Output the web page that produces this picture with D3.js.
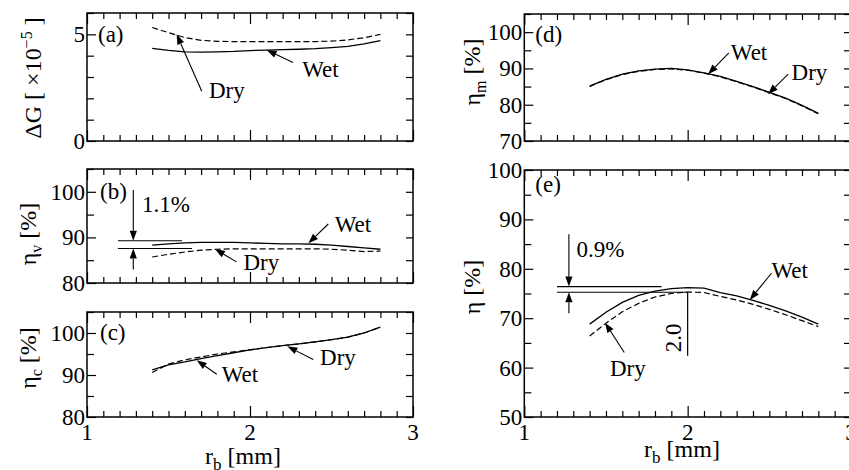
<!DOCTYPE html>
<html>
<head>
<meta charset="utf-8">
<script src="https://cdn.jsdelivr.net/npm/d3@7"></script>
<style>
  body { margin: 0; background: #fff; }
</style>
</head>
<body>
<svg id="chart" width="849" height="470"></svg>
<script>
// bubble radius r_b [mm]
var rb = [1.4, 1.5, 1.6, 1.7, 1.8, 1.9, 2.0, 2.1, 2.2, 2.3, 2.4, 2.5, 2.6, 2.7, 2.8];

// (a) delta G [x10^-5]
var dGWet = [4.34, 4.25, 4.18, 4.17, 4.18, 4.20, 4.24, 4.26, 4.28, 4.30, 4.33, 4.38, 4.44, 4.55, 4.70];
var dGDry = [5.32, 5.08, 4.85, 4.72, 4.67, 4.66, 4.66, 4.66, 4.66, 4.66, 4.66, 4.68, 4.74, 4.84, 5.00];

// (b) eta_v [%]
var etaVWet = [88.3, 88.6, 88.8, 88.9, 88.9, 88.9, 88.8, 88.7, 88.6, 88.6, 88.5, 88.3, 88.0, 87.7, 87.4];
var etaVDry = [85.7, 86.3, 86.8, 87.2, 87.4, 87.5, 87.5, 87.5, 87.5, 87.5, 87.5, 87.4, 87.2, 86.9, 87.0];

// (c) eta_c [%]
var etaCWet = [91.2, 92.4, 93.1, 93.9, 94.6, 95.3, 96.0, 96.5, 97.0, 97.4, 97.9, 98.4, 99.0, 100.0, 101.4];
var etaCDry = [90.6, 92.6, 93.6, 94.3, 95.0, 95.5, 96.0, 96.5, 97.0, 97.4, 97.9, 98.4, 99.0, 100.0, 101.4];

// (d) eta_m [%]
var etaMWet = [85.1, 87.0, 88.4, 89.3, 89.8, 90.0, 89.6, 88.8, 87.8, 86.4, 85.0, 83.4, 81.8, 79.8, 77.6];
var etaMDry = [85.0, 86.9, 88.3, 89.2, 89.7, 89.9, 89.5, 88.7, 87.7, 86.3, 84.9, 83.3, 81.7, 79.7, 77.5];

// (e) eta [%]
var etaWet = [68.8, 71.2, 73.2, 74.6, 75.5, 76.0, 76.2, 76.1, 75.2, 74.5, 73.6, 72.6, 71.5, 70.2, 68.8];
var etaDry = [66.4, 69.0, 71.3, 73.0, 74.3, 75.0, 75.3, 75.2, 74.4, 73.7, 72.8, 71.8, 70.7, 69.5, 68.3];

var xTickLabels = [1, 2, 3];

var panels = [
  { name: "(a)", x0: 87, x1: 413, y0: 13, y1: 141, yDomain: [0, 6], yStep: 1, yLabels: [0, 5],
    wet: dGWet, dry: dGDry, lab: [11, 29],
    title: { x: 41, y: 78, parts: [["ΔG [ ×10", 0], ["−5", -9, 16], [" ]", 9]] },
    notes: [
      { text: "Dry", at: [1.748, 2.03], from: [1.704, 2.33], to: [1.55, 5.0] },
      { text: "Wet", at: [2.32, 3.02], from: [2.264, 3.68], to: [2.102, 4.26] }
    ] },
  { name: "(b)", x0: 87, x1: 413, y0: 169, y1: 283, yDomain: [80, 105], yStep: 5, yLabels: [80, 90, 100],
    wet: etaVWet, dry: etaVDry, lab: [13, 30],
    title: { x: 36, y: 234, parts: [["η", 0], ["v", 6, 16], [" [%]", -6]] },
    notes: [
      { text: "Wet", at: [2.52, 91.24], from: [2.48, 92.94], to: [2.358, 88.69] },
      { text: "Dry", at: [1.96, 82.8], from: [1.918, 84.63], to: [1.785, 87.43] },
      { text: "1.1%", at: [1.337, 95.65] }
    ],
    gap: { x: 1.284, hi: 89.26, lo: 87.58, from: 1.19, hiTo: 1.583, loTo: 1.644, top: 100.4, bottom: 82.95 } },
  { name: "(c)", x0: 87, x1: 413, y0: 312, y1: 417, yDomain: [80, 105], yStep: 5, yLabels: [80, 90, 100],
    wet: etaCWet, dry: etaCDry, lab: [13, 28],
    title: { x: 36, y: 358, parts: [["η", 0], ["c", 6, 16], [" [%]", -6]] },
    notes: [
      { text: "Dry", at: [2.43, 92.3], from: [2.388, 93.67], to: [2.229, 96.83] },
      { text: "Wet", at: [1.826, 88.33], from: [1.796, 90.17], to: [1.673, 93.5] }
    ],
    xAxis: { labelDy: 23, titleX: 243, titleY: 464 } },
  { name: "(d)", x0: 524.3, x1: 851, y0: 14, y1: 141, yDomain: [70, 105], yStep: 5, yLabels: [70, 80, 90, 100],
    wet: etaMWet, dry: etaMDry, lab: [11, 28],
    title: { x: 480, y: 72, parts: [["η", 0], ["m", 6, 16], [" [%]", -6]] },
    notes: [
      { text: "Wet", at: [2.264, 92.3], from: [2.252, 94.3], to: [2.125, 88.4] },
      { text: "Dry", at: [2.636, 86.8], from: [2.615, 88.4], to: [2.492, 82.9] }
    ] },
  { name: "(e)", x0: 524.3, x1: 851, y0: 170, y1: 417, yDomain: [50, 100], yStep: 5, yLabels: [50, 60, 70, 80, 90, 100],
    wet: etaWet, dry: etaDry, lab: [11, 22],
    title: { x: 480, y: 287, parts: [["η [%]", 0]] },
    notes: [
      { text: "Wet", at: [2.513, 78.1], from: [2.513, 79.1], to: [2.38, 73.7] },
      { text: "Dry", at: [1.524, 58.2], from: [1.612, 63.05], to: [1.494, 69.1] },
      { text: "0.9%", at: [1.32, 82.4] }
    ],
    gap: { x: 1.273, hi: 76.4, lo: 75.25, from: 1.2, hiTo: 1.84, loTo: 2.0, top: 87.0, bottom: 71.0 },
    peak: { x: 2.0, top: 75.25, bottom: 62.4, text: "2.0", tx: 1.962, ty: 66.0 },
    xAxis: { labelDy: 23, titleX: 682, titleY: 457 } }
];

var FONT = "'Liberation Serif'";
var FS = 23;
var svg = d3.select("#chart");

panels.forEach(drawPanel);

function txt(g, size) {
  return g.append("text").style("font-family", FONT).attr("font-size", size || FS);
}

function drawPanel(p) {
  var x = d3.scaleLinear().domain([1, 3]).range([p.x0, p.x1]);
  var y = d3.scaleLinear().domain(p.yDomain).range([p.y1, p.y0]);
  var g = svg.append("g");

  // ticks, all pointing inwards
  var xMinor = d3.range(10, 31).filter(function (d) { return d % 10 !== 0; }).map(function (d) { return d / 10; });
  var yAll = d3.range(p.yDomain[0], p.yDomain[1] + 0.001, p.yStep);
  var yMinor = yAll.filter(function (d) { return p.yLabels.indexOf(d) < 0; });

  addTicks(g, d3.axisBottom(x), xMinor, 6, "translate(0," + p.y1 + ")");
  addTicks(g, d3.axisBottom(x), xTickLabels, 11, "translate(0," + p.y1 + ")");
  addTicks(g, d3.axisTop(x), xMinor, 6, "translate(0," + p.y0 + ")");
  addTicks(g, d3.axisTop(x), xTickLabels, 11, "translate(0," + p.y0 + ")");
  addTicks(g, d3.axisLeft(y), yMinor, 7, "translate(" + p.x0 + ",0)");
  addTicks(g, d3.axisLeft(y), p.yLabels, 9, "translate(" + p.x0 + ",0)");
  addTicks(g, d3.axisRight(y), yAll, 7, "translate(" + p.x1 + ",0)");

  g.append("rect")
    .attr("x", p.x0).attr("y", p.y0)
    .attr("width", p.x1 - p.x0).attr("height", p.y1 - p.y0)
    .attr("fill", "none").attr("stroke", "#000").attr("stroke-width", 1.5);

  p.yLabels.forEach(function (d) {
    txt(g).attr("x", p.x0 - 2).attr("y", y(d)).attr("dy", "0.35em")
      .attr("text-anchor", "end").text(d);
  });

  // y title, rotated
  var t = txt(g, 24)
    .attr("transform", "translate(" + p.title.x + "," + p.title.y + ") rotate(-90)")
    .attr("text-anchor", "middle");
  p.title.parts.forEach(function (part) {
    t.append("tspan").attr("dy", part[1]).attr("font-size", part[2] || 24).text(part[0]);
  });

  txt(g).attr("x", p.x0 + p.lab[0]).attr("y", p.y0 + p.lab[1]).text(p.name);

  if (p.xAxis) {
    xTickLabels.forEach(function (d) {
      txt(g).attr("x", x(d)).attr("y", p.y1 + p.xAxis.labelDy)
        .attr("text-anchor", "middle").text(d);
    });
    var xt = txt(g, 24)
      .attr("x", p.xAxis.titleX).attr("y", p.xAxis.titleY)
      .attr("text-anchor", "middle");
    xt.append("tspan").text("r");
    xt.append("tspan").attr("dy", 6).attr("font-size", 17).text("b");
    xt.append("tspan").attr("dy", -6).text(" [mm]");
  }

  var line = d3.line()
    .x(function (d) { return x(d[0]); })
    .y(function (d) { return y(d[1]); });

  g.append("path")
    .datum(d3.zip(rb, p.dry))
    .attr("d", line)
    .attr("fill", "none").attr("stroke", "#000")
    .attr("stroke-width", 1.2).attr("stroke-dasharray", "6,3");

  g.append("path")
    .datum(d3.zip(rb, p.wet))
    .attr("d", line)
    .attr("fill", "none").attr("stroke", "#000")
    .attr("stroke-width", 1.3);

  p.notes.forEach(function (n) {
    txt(g).attr("x", x(n.at[0])).attr("y", y(n.at[1])).text(n.text);
    if (n.from) arrow(g, x(n.from[0]), y(n.from[1]), x(n.to[0]), y(n.to[1]));
  });

  if (p.gap) {
    var q = p.gap;
    hline(g, x(q.from), x(q.hiTo), y(q.hi));
    hline(g, x(q.from), x(q.loTo), y(q.lo));
    arrow(g, x(q.x), y(q.top), x(q.x), y(q.hi));
    arrow(g, x(q.x), y(q.bottom), x(q.x), y(q.lo));
  }

  if (p.peak) {
    g.append("line")
      .attr("x1", x(p.peak.x)).attr("x2", x(p.peak.x))
      .attr("y1", y(p.peak.top)).attr("y2", y(p.peak.bottom))
      .attr("stroke", "#000").attr("stroke-width", 1.2);
    txt(g)
      .attr("transform", "translate(" + x(p.peak.tx) + "," + y(p.peak.ty) + ") rotate(-90)")
      .attr("text-anchor", "middle")
      .text(p.peak.text);
  }
}

function addTicks(g, axis, values, size, transform) {
  var a = g.append("g")
    .attr("transform", transform)
    .call(axis.tickValues(values).tickSize(-size).tickFormat(""));
  a.select(".domain").remove();
  a.selectAll("text").remove();
  a.selectAll("line").attr("stroke", "#000").attr("stroke-width", 1.2);
}

function hline(g, xa, xb, yv) {
  g.append("line")
    .attr("x1", xa).attr("x2", xb).attr("y1", yv).attr("y2", yv)
    .attr("stroke", "#000").attr("stroke-width", 1.1);
}

function arrow(g, x1, y1, x2, y2) {
  var ang = Math.atan2(y2 - y1, x2 - x1);
  var L = 10, W = 3.6;
  var bx = x2 - L * Math.cos(ang), by = y2 - L * Math.sin(ang);
  g.append("line")
    .attr("x1", x1).attr("y1", y1).attr("x2", bx).attr("y2", by)
    .attr("stroke", "#000").attr("stroke-width", 1.1);
  g.append("path")
    .attr("d", "M" + x2 + "," + y2 +
      "L" + (bx + W * Math.sin(ang)) + "," + (by - W * Math.cos(ang)) +
      "L" + (bx - W * Math.sin(ang)) + "," + (by + W * Math.cos(ang)) + "Z")
    .attr("fill", "#000");
}
</script>
</body>
</html>
